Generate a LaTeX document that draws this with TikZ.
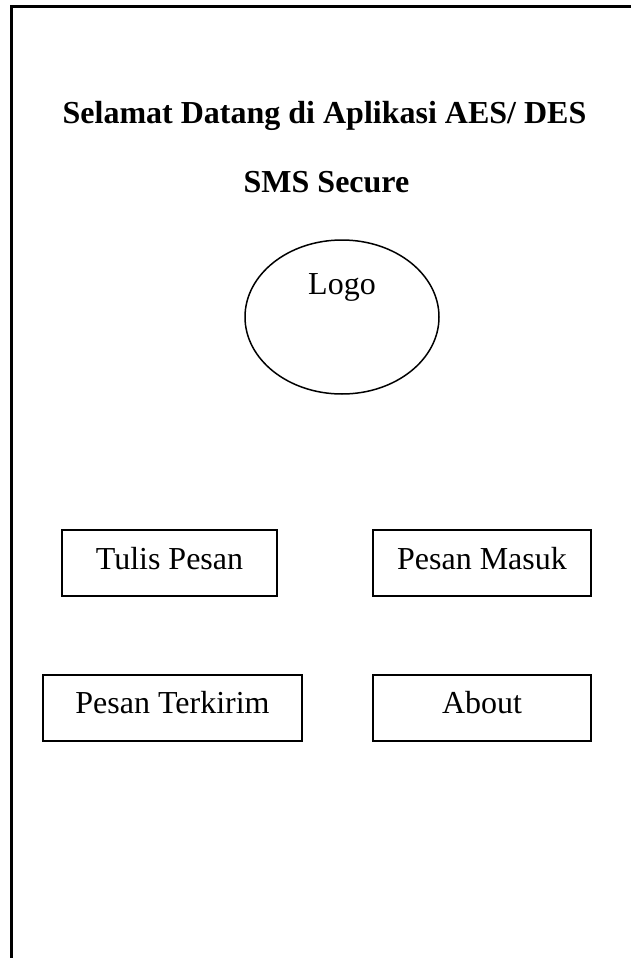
\documentclass[tikz,border=0pt]{standalone}
\usepackage{fontspec}
\setmainfont{Liberation Serif}
\usetikzlibrary{shapes.geometric}
\begin{document}
\begin{tikzpicture}[x=1pt,y=-1pt,
  every node/.style={font=\fontsize{32}{38}\selectfont},
  menubtn/.style={draw,line width=2pt,inner sep=0pt,minimum height=66pt,
    text height=22pt,text depth=10pt},
  heading/.style={anchor=base,font=\fontsize{32}{38}\selectfont\bfseries}]
  \useasboundingbox (0,0) rectangle (631,958);
  % screen frame (open to the right and bottom)
  \coordinate (fbl) at (11.5,958);
  \coordinate (ftl) at (11.5,6.5);
  \coordinate (ftr) at (631,6.5);
  \draw[line width=2.2pt] (fbl) -- (ftl) -- (ftr);
  % headings
  \node[heading] (title) at (324.5,123) {Selamat Datang di Aplikasi AES/ DES};
  \node[heading] (sub) at (326.5,192) {SMS Secure};
  % logo placeholder
  \node[draw,ellipse,line width=1.5pt,minimum width=194pt,minimum height=154pt,inner sep=0pt] (logo) at (342,317) {};
  \node[anchor=base] (logotext) at (342,294) {Logo};
  % menu buttons
  \node[menubtn,minimum width=215pt] (tulis) at (169.5,563) {Tulis Pesan};
  \node[menubtn,minimum width=218pt] (masuk) at (482,563) {Pesan Masuk};
  \node[menubtn,minimum width=259pt] (terkirim) at (172.5,707.5) {Pesan Terkirim};
  \node[menubtn,minimum width=218pt] (about) at (482,707.5) {About};
\end{tikzpicture}
\end{document}
